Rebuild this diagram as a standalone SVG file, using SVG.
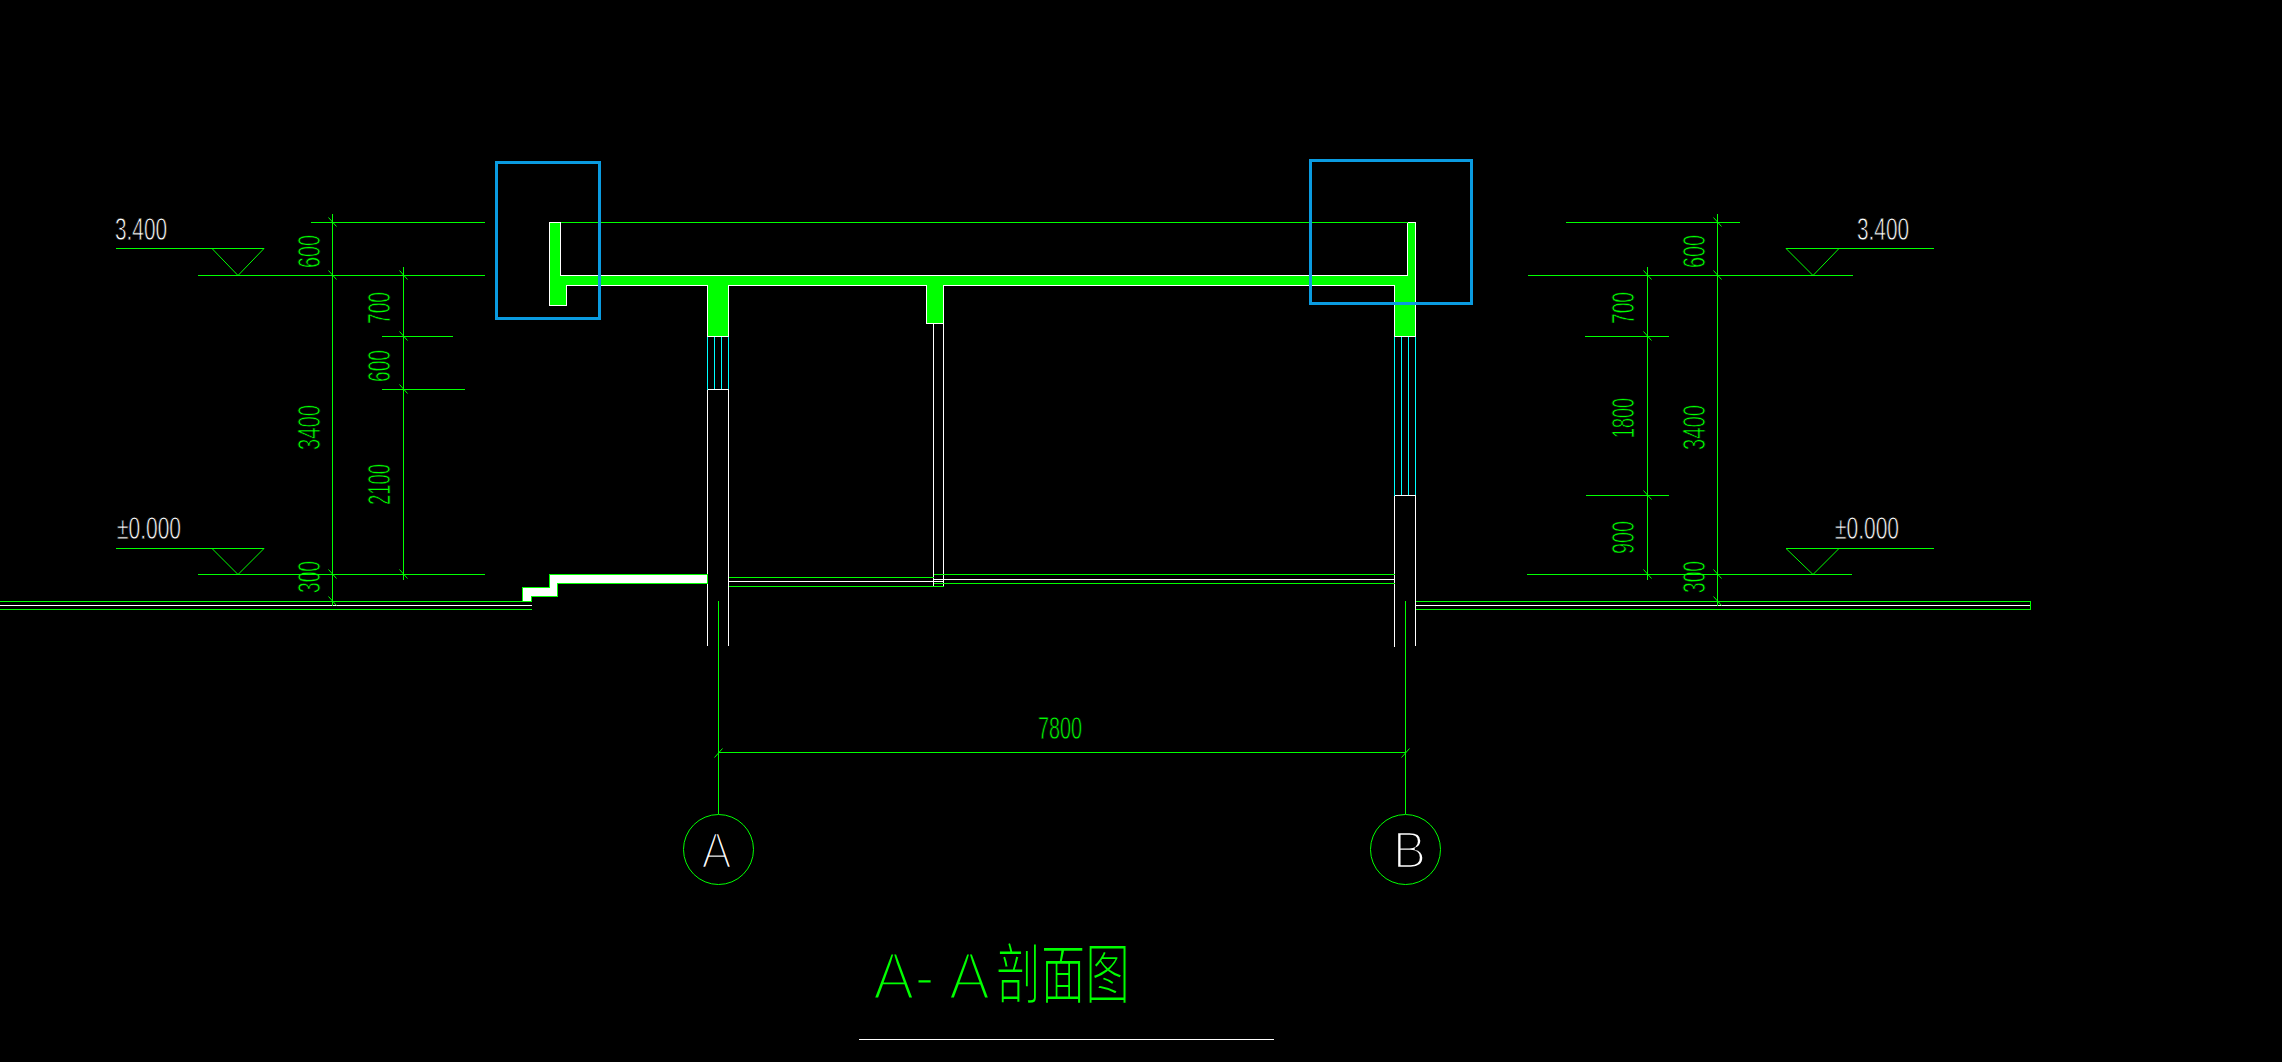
<svg xmlns="http://www.w3.org/2000/svg" xmlns:xlink="http://www.w3.org/1999/xlink" width="2282" height="1062" viewBox="0 0 2282 1062">
<style>
.g{stroke:#00ff00;stroke-width:1.2;fill:none;shape-rendering:crispEdges}
.d{stroke:#00ff00;stroke-width:1;fill:none}
.w{stroke:#fff;stroke-width:1.2;fill:none;shape-rendering:crispEdges}
.c{stroke:#00ffff;stroke-width:1.2;fill:none;shape-rendering:crispEdges}
.s{fill:#00ff00;stroke:#fff;stroke-width:1.2;shape-rendering:crispEdges}
.b{fill:none;stroke:#0a9be0;stroke-width:3;shape-rendering:crispEdges}
text{font-family:"Liberation Sans","Noto Sans CJK SC",sans-serif;stroke:#000;stroke-width:.8px}
.tw{fill:#fff;font-size:32px}
.tg{fill:#00ff00;font-size:32px}
</style>
<defs>
<path id="tb" d="M-4-5L4 4" class="d"/>
<path id="tf" d="M-4 5L4-4" class="d"/>
</defs>
<rect width="2282" height="1062" fill="#000"/>
<g id="labels">
<text class="tw" x="115" y="240" textLength="52" lengthAdjust="spacingAndGlyphs">3.400</text>
<text class="tw" x="1857" y="240" textLength="52" lengthAdjust="spacingAndGlyphs">3.400</text>
<text class="tw" x="117" y="539" textLength="64" lengthAdjust="spacingAndGlyphs">±0.000</text>
<text class="tw" x="1835" y="539" textLength="64" lengthAdjust="spacingAndGlyphs">±0.000</text>
<text class="tg" transform="translate(320,268) rotate(-90)" textLength="33" lengthAdjust="spacingAndGlyphs">600</text>
<text class="tg" transform="translate(320,450) rotate(-90)" textLength="45" lengthAdjust="spacingAndGlyphs">3400</text>
<text class="tg" transform="translate(320,593) rotate(-90)" textLength="32" lengthAdjust="spacingAndGlyphs">300</text>
<text class="tg" transform="translate(390,324) rotate(-90)" textLength="32" lengthAdjust="spacingAndGlyphs">700</text>
<text class="tg" transform="translate(390,382) rotate(-90)" textLength="32" lengthAdjust="spacingAndGlyphs">600</text>
<text class="tg" transform="translate(390,505) rotate(-90)" textLength="41" lengthAdjust="spacingAndGlyphs">2100</text>
<text class="tg" transform="translate(1705,268) rotate(-90)" textLength="33" lengthAdjust="spacingAndGlyphs">600</text>
<text class="tg" transform="translate(1705,450) rotate(-90)" textLength="45" lengthAdjust="spacingAndGlyphs">3400</text>
<text class="tg" transform="translate(1705,593) rotate(-90)" textLength="32" lengthAdjust="spacingAndGlyphs">300</text>
<text class="tg" transform="translate(1634,324) rotate(-90)" textLength="32" lengthAdjust="spacingAndGlyphs">700</text>
<text class="tg" transform="translate(1634,438) rotate(-90)" textLength="40" lengthAdjust="spacingAndGlyphs">1800</text>
<text class="tg" transform="translate(1634,554) rotate(-90)" textLength="33" lengthAdjust="spacingAndGlyphs">900</text>
<text class="tg" x="1038" y="739" textLength="44" lengthAdjust="spacingAndGlyphs">7800</text>
</g>
<g id="structure">
<path class="s" d="M549.5 222.5H560.5V275.5H1407.5V222.5H1415.5V336.5H1394.5V285.5H943.5V323.5H926.5V285.5H728.5V336.5H707.5V285.5H566.5V305.5H549.5Z"/>
<path class="g" d="M560.5 222.5H1407.5"/>
<path class="c" d="M707.5 336.5V389.5M714.5 336.5V389.5M721.5 336.5V389.5M728.5 336.5V389.5"/>
<path class="c" d="M1394.5 336.5V495.5M1401.5 336.5V495.5M1408.5 336.5V495.5M1415.5 336.5V495.5"/>
<path class="w" d="M707.5 389.5H728.5M707.5 389.5V645.5M728.5 389.5V645.5"/>
<path class="w" d="M1394.5 495.5H1415.5M1394.5 495.5V646.5M1415.5 495.5V645.5"/>
<path class="w" d="M933.5 323.5V586.5M943.5 323.5V586.5"/>
<path d="M522.5 601.5V587.5H549.5V574.5H707.5V583.5H557.5V596.5H531.5V601.5Z" fill="#fff" stroke="#00ff00" stroke-width="1.2" shape-rendering="crispEdges"/>
<path class="g" d="M728.5 577.5H933.5M728.5 586.5H943.5M933.5 574.5H1394.5M933.5 583.5H1394.5"/>
<path class="w" d="M728.5 581.5H943.5M933.5 579.5H1394.5"/>
<path class="g" d="M0 601.5H531.5M0 609.5H531.5M1415.5 601.5H2030.5V609.5H1415.5"/>
<path class="w" d="M0 605.5H531.5M1415.5 605.5H2030"/>
</g>
<g id="highlights">
<rect class="b" x="496.5" y="162.5" width="103" height="156"/>
<rect class="b" x="1310.5" y="160.5" width="161" height="143"/>
</g>
<g id="connectors">
<path class="g" d="M311 222.5H485M198 275.5H485M382 336.5H453M382 389.5H465M198 574.5H485"/>
<path class="g" d="M332.5 214V606M403.5 267V580"/>
<path class="g" d="M1566 222.5H1740M1528 275.5H1853M1585 336.5H1669M1586 495.5H1669M1527 574.5H1852"/>
<path class="g" d="M1717.5 214V606M1647.5 267V580"/>
<path class="g" d="M116 248.5H264M116 548.5H264M1786 248.5H1934M1786 548.5H1934"/>
<path class="d" d="M212 248.5L238 275.5L264 248.5M212 548.5L238 574.5L264 548.5M1786 248.5L1813 275.5L1839 248.5M1786 548.5L1813 574.5L1839 548.5"/>
<path class="g" d="M718.5 601V814M1405.5 601V814M718.5 752.5H1405.5"/>
<use href="#tb" x="332.5" y="222.5"/><use href="#tb" x="332.5" y="275.5"/><use href="#tb" x="332.5" y="574.5"/><use href="#tb" x="332.5" y="601.5"/>
<use href="#tb" x="403.5" y="275.5"/><use href="#tb" x="403.5" y="336.5"/><use href="#tb" x="403.5" y="389.5"/><use href="#tb" x="403.5" y="574.5"/>
<use href="#tb" x="1717.5" y="222.5"/><use href="#tb" x="1717.5" y="275.5"/><use href="#tb" x="1717.5" y="574.5"/><use href="#tb" x="1717.5" y="601.5"/>
<use href="#tb" x="1647.5" y="275.5"/><use href="#tb" x="1647.5" y="336.5"/><use href="#tb" x="1647.5" y="495.5"/><use href="#tb" x="1647.5" y="574.5"/>
<use href="#tf" x="718.5" y="752.5"/><use href="#tf" x="1405.5" y="752.5"/>
</g>
<g id="axis-a">
<circle class="d" cx="718.5" cy="849.5" r="35"/>
<text x="701.5" y="868" style="fill:#fff;font-size:50px;stroke-width:2.4px" textLength="30" lengthAdjust="spacingAndGlyphs">A</text>
</g>
<g id="axis-b">
<circle class="d" cx="1405.5" cy="849.5" r="35"/>
<text x="1393" y="868" style="fill:#fff;font-size:52px;stroke-width:2.4px" textLength="33" lengthAdjust="spacingAndGlyphs">B</text>
</g>
<g id="title">
<text x="873" y="999" style="fill:#00ff00;font-size:66px;stroke-width:3.2px" textLength="117" lengthAdjust="spacingAndGlyphs">A- A</text>
<text x="996" y="998" style="fill:#00ff00;font-size:66px;stroke-width:2px;font-family:'Noto Sans CJK SC',sans-serif" textLength="134" lengthAdjust="spacingAndGlyphs">剖面图</text>
<path class="w" d="M859 1039.5H1274"/>
</g>
</svg>
